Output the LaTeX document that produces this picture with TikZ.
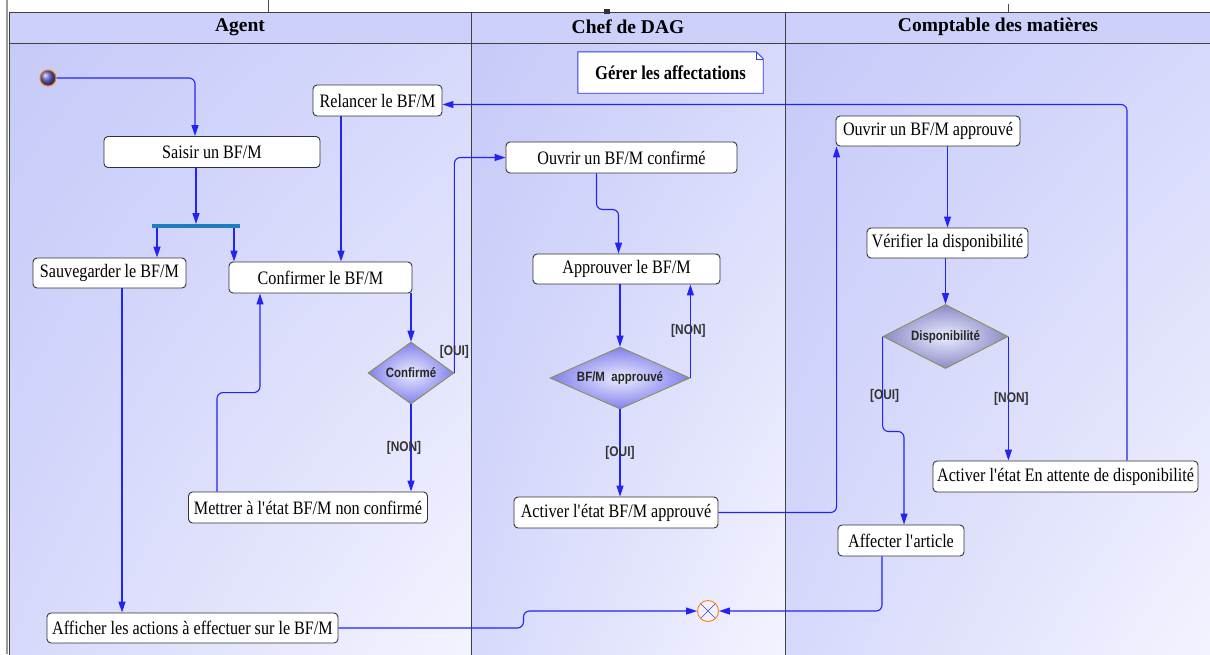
\documentclass[tikz,border=0pt]{standalone}
\usepackage{fontspec}
\setmainfont{Liberation Serif}
\newfontfamily\actfont[FakeStretch=0.85]{Liberation Serif}
\newfontfamily\guardfont[FakeStretch=0.85]{Liberation Sans}
\usetikzlibrary{arrows.meta, shapes.geometric, shadings}
\newcommand{\flowarrow}{-{Triangle[length=11pt,width=7pt]}}
\newcommand{\q}{\textquotesingle}
\definecolor{flowblue}{RGB}{35,35,245}
\definecolor{headfill}{RGB}{205,208,250}
\definecolor{lanedark}{RGB}{198,202,248}
\definecolor{lanemid}{RGB}{214,217,251}
\definecolor{lanelight}{RGB}{244,244,255}
\definecolor{forkblue}{RGB}{30,125,190}
\definecolor{decisionedge}{RGB}{140,140,70}
\definecolor{decisionin}{RGB}{236,236,255}
\definecolor{decisionout}{RGB}{128,128,236}
\definecolor{dispoout}{RGB}{138,138,200}
\definecolor{startball}{RGB}{95,95,205}
\definecolor{finalfill}{RGB}{240,240,255}
\definecolor{notedge}{RGB}{50,60,240}

\begin{document}
\begin{tikzpicture}[x=1pt, y=-1pt,
    activity/.style={draw=black!80, fill=white, rounded corners=4pt, line width=0.9pt,
        minimum height=31pt, inner xsep=4pt, font=\actfont\fontsize{19}{21}\selectfont},
    decision/.style={diamond, aspect=3, draw=decisionedge, line width=0.8pt, inner sep=0pt,
        inner color=decisionin, outer color=decisionout,
        text=black!85, font=\guardfont\bfseries\fontsize{13.5}{15}\selectfont},
    guard/.style={text=black!80, font=\guardfont\bfseries\fontsize{14}{16}\selectfont},
    flow/.style={draw=flowblue, line width=1.1pt, rounded corners=6pt, \flowarrow},
    lanehead/.style={font=\bfseries\fontsize{19.5}{22}\selectfont},
    lanebody/.style={shade, upper left=lanedark, lower left=lanemid, upper right=lanemid, lower right=lanelight}
]
    \useasboundingbox (0,0) rectangle (1210,654);
    \fill[white] (0,0) rectangle (1210,654);

    \path[lanebody] (9,43) rectangle (471,660);
    \path[lanebody] (471,43) rectangle (785,660);
    \path[lanebody] (785,43) rectangle (1214,660);
    \fill[headfill] (9,12) rectangle (1214,43);
    \draw[black!75, line width=1pt] (9,660) -- (9,12) -- (1214,12);
    \draw[black!75, line width=1pt] (9,43) -- (1214,43);
    \draw[black!75, line width=1pt] (471,12) -- (471,660);
    \draw[black!75, line width=1pt] (785,12) -- (785,660);
    \draw[black!40, line width=2pt] (7,0) -- (7,654);
    \draw[black!70] (268,0) -- (268,12);
    \draw[black!70] (1008,4) -- (1008,12);
    \fill[black!80] (604,9) rectangle (610,14);

    \node[lanehead] (agentlane) at (240,27) {Agent};
    \node[lanehead] (cheflane) at (628,27) {Chef de DAG};
    \node[lanehead] (comptalane) at (998,27) {Comptable des matières};

    \node[minimum width=185pt, minimum height=41pt] (note) at (670.5,72.5) {};
    \draw[notedge, fill=white, line width=0.9pt] (note.south west) -- (note.north west) -- ([xshift=-7pt]note.north east)
        -- ([yshift=-7pt]note.north east) -- (note.south east) -- cycle;
    \draw[notedge, line width=0.6pt] ([xshift=-7pt]note.north east) |- ([yshift=-7pt]note.north east);
    \node[font=\actfont\bfseries\fontsize{19.5}{22}\selectfont] (notetext) at (note) {Gérer les affectations};

    \node[circle, minimum size=16pt, inner sep=0pt, ball color=startball, draw=orange, line width=1pt] (start) at (48,78) {};
    \node[activity, minimum width=216pt] (saisir) at (212,152) {Saisir un BF/M};
    \node[activity, minimum width=129pt] (relancer) at (377.5,100.5) {Relancer le BF/M};
    \node[rectangle, fill=forkblue, minimum width=88pt, minimum height=3.5pt, inner sep=0pt] (fork) at (196,226) {};
    \node[activity, minimum width=153pt, minimum height=30pt] (sauv) at (109.5,273) {Sauvegarder le BF/M};
    \node[activity, minimum width=183pt] (confirmer) at (320.5,277.5) {Confirmer le BF/M};
    \node[decision, minimum width=86pt, minimum height=62pt] (confirme) at (411,373) {Confirmé};
    \node[activity, minimum width=239pt] (mettrer) at (308,507.5) {Mettrer à l\q état BF/M non confirmé};
    \node[activity, minimum width=291pt, minimum height=30pt] (afficher) at (192.5,628) {Afficher les actions à effectuer sur le BF/M};

    \node[activity, minimum width=231pt] (ouvrirconf) at (621.5,157.5) {Ouvrir un BF/M confirmé};
    \node[activity, minimum width=187pt, minimum height=30pt] (approuver) at (626.5,269) {Approuver le BF/M};
    \node[decision, minimum width=140pt, minimum height=62pt] (approuve) at (620,378) {BF/M\ \ approuvé};
    \node[activity, minimum width=204pt] (activappr) at (616,512.5) {Activer l\q état BF/M approuvé};
    \node[circle, minimum size=21pt, inner sep=0pt, draw=orange, line width=0.9pt, fill=finalfill,
        path picture={\draw[blue!45!gray, line width=0.6pt] (path picture bounding box.north west) -- (path picture bounding box.south east)
            (path picture bounding box.north east) -- (path picture bounding box.south west);}] (final) at (708,611) {};

    \node[activity, minimum width=184pt, minimum height=30pt] (ouvrirappr) at (928,131) {Ouvrir un BF/M approuvé};
    \node[activity, minimum width=161pt, minimum height=30pt] (verifier) at (947.5,243) {Vérifier la disponibilité};
    \node[decision, minimum width=125pt, minimum height=64pt, outer color=dispoout] (dispo) at (945.5,336.5) {Disponibilité};
    \node[activity, minimum width=265pt] (attente) at (1065.5,476.5) {Activer l\q état En attente de disponibilité};
    \node[activity, minimum width=126pt] (affecter) at (901,540.5) {Affecter l\q article};

    \draw[flow] (start.east) -| ([xshift=-17pt]saisir.north);
    \draw[flow] (saisir.south -| fork.north) -- (fork.north);
    \draw[flow] ([xshift=-39pt]fork.south) -- ([xshift=-39pt]fork.south |- sauv.north);
    \draw[flow] ([xshift=38pt]fork.south) -- ([xshift=38pt]fork.south |- confirmer.north);
    \draw[flow] ([xshift=-36.5pt]relancer.south) -- ([xshift=-36.5pt]relancer.south |- confirmer.north);
    \draw[flow] (confirme.north |- confirmer.south) -- (confirme.north);
    \draw[flow] (confirme.east) |- (ouvrirconf.west) node[guard, pos=0.05] {[OUI]};
    \draw[flow] (confirme.south) -- (confirme.south |- mettrer.north) node[guard, midway, xshift=-7pt] {[NON]};
    \draw[flow] ([xshift=-91pt]mettrer.north) -- ++(0,-99) -| ([xshift=-60.5pt]confirmer.south);
    \draw[flow] ([xshift=12.5pt]sauv.south) -- ([xshift=12.5pt]sauv.south |- afficher.north);
    \draw[flow] (afficher.east) -- ++(185,0) |- (final.west);

    \draw[flow] ([xshift=-25pt]ouvrirconf.south) -- ++(0,36) -| ([xshift=-8pt]approuver.north);
    \draw[flow] (approuve.north |- approuver.south) -- (approuve.north);
    \draw[flow] (approuve.east) -- (approuve.east |- approuver.south) node[guard, midway, xshift=-2pt] {[NON]};
    \draw[flow] (approuve.south) -- (approuve.south |- activappr.north) node[guard, midway] {[OUI]};
    \draw[flow] (activappr.east) -| ([xshift=1pt]ouvrirappr.south west);

    \draw[flow] (verifier.north |- ouvrirappr.south) -- (verifier.north);
    \draw[flow] (dispo.north |- verifier.south) -- (dispo.north);
    \draw[flow] (dispo.west) -- ++(0,95) node[guard, pos=0.63, xshift=2pt] {[OUI]} -| ([xshift=3pt]affecter.north);
    \draw[flow] (dispo.east) -- (dispo.east |- attente.north) node[guard, midway, xshift=3pt] {[NON]};
    \draw[flow] ([xshift=61.5pt]attente.north) |- ([yshift=-4pt]relancer.east);
    \draw[flow] ([xshift=-19pt]affecter.south) |- (final.east);
\end{tikzpicture}
\end{document}
